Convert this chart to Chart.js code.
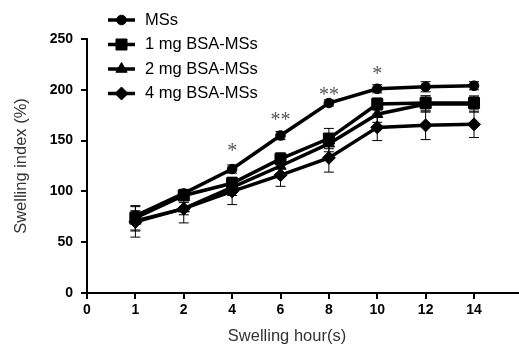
<!DOCTYPE html>
<html>
<head>
<meta charset="utf-8">
<script src="https://cdn.jsdelivr.net/npm/chart.js@4.4.1/dist/chart.umd.min.js"></script>
<style>
  html, body { margin: 0; padding: 0; background: #fff; }
  #wrap { width: 519px; height: 345px; }
</style>
</head>
<body>
<div id="wrap"><canvas id="c" width="519" height="345"></canvas></div>
<script>
// ---- data ----
const xTickLabels = ['0', '1', '2', '4', '6', '8', '10', '12', '14'];
const hours = ['1', '2', '4', '6', '8', '10', '12', '14'];
const seriesNames = ['MSs', '1 mg BSA-MSs', '2 mg BSA-MSs', '4 mg BSA-MSs'];
const msValues   = [76, 98, 122, 155, 187, 201, 203, 204];
const bsa1Values = [74, 96, 108, 132, 152, 186, 187, 187];
const bsa2Values = [71, 83, 104, 125, 147, 176, 186, 186];
const bsa4Values = [70, 83, 100, 116, 133, 163, 165, 166];
const msErr   = [4, 4, 4, 4, 3, 4, 5, 4];
const bsa1Err = [12, 5, 6, 6, 10, 6, 7, 6];
const bsa2Err = [10, 6, 8, 8, 8, 8, 8, 8];
const bsa4Err = [15, 14, 13, 11, 14, 13, 14, 13];
const significance = ['', '', '*', '**', '**', '*', '', ''];
const significanceY = [null, null, 143, 173, 198, 218.5, null, null];
const xTitle = 'Swelling hour(s)';
const yTitle = 'Swelling index (%)';

const FONT = "Arial, 'Liberation Sans', sans-serif";
const pointStyles = ['circle', 'rect', 'triangle', 'rectRot'];
const pointRadii = [4.8, 7.8, 6.5, 6.5];
const valuesList = [msValues, bsa1Values, bsa2Values, bsa4Values];
const errList = [msErr, bsa1Err, bsa2Err, bsa4Err];

const toPoints = (vals) => vals.map((v, i) => ({ x: xTickLabels.indexOf(hours[i]), y: v }));

const datasets = seriesNames.map((name, k) => ({
  label: name,
  data: toPoints(valuesList[k]),
  errors: errList[k],
  borderColor: '#000',
  backgroundColor: '#000',
  borderWidth: 3.5,
  pointStyle: pointStyles[k],
  pointRadius: pointRadii[k],
  pointBorderWidth: 1,
  pointBackgroundColor: '#000',
  pointBorderColor: '#000',
  tension: 0,
  fill: false
}));

const errorBarPlugin = {
  id: 'errorBars',
  beforeDatasetsDraw(chart) {
    const { ctx, scales: { x, y } } = chart;
    ctx.save();
    ctx.strokeStyle = '#000';
    ctx.lineWidth = 1;
    chart.data.datasets.forEach((ds) => {
      ds.data.forEach((p, i) => {
        const e = ds.errors[i];
        const px = x.getPixelForValue(p.x);
        const yt = y.getPixelForValue(p.y + e);
        const yb = y.getPixelForValue(p.y - e);
        ctx.beginPath();
        ctx.moveTo(px, yt); ctx.lineTo(px, yb);
        ctx.moveTo(px - 5, yt); ctx.lineTo(px + 5, yt);
        ctx.moveTo(px - 5, yb); ctx.lineTo(px + 5, yb);
        ctx.stroke();
      });
    });
    ctx.restore();
  }
};

const sigPlugin = {
  id: 'sig',
  afterDatasetsDraw(chart) {
    const { ctx, scales: { x, y } } = chart;
    ctx.save();
    ctx.fillStyle = '#555';
    ctx.font = "20px 'Liberation Serif', 'Times New Roman', serif";
    ctx.textAlign = 'center';
    ctx.textBaseline = 'middle';
    significance.forEach((s, i) => {
      if (!s) return;
      const px = x.getPixelForValue(xTickLabels.indexOf(hours[i]));
      const py = y.getPixelForValue(significanceY[i]);
      ctx.fillText(s, px, py + 4);
    });
    ctx.restore();
  }
};

const xTitlePlugin = {
  id: 'xTitle',
  afterDraw(chart) {
    const { ctx, chartArea } = chart;
    ctx.save();
    ctx.fillStyle = '#333';
    ctx.font = '16.5px ' + FONT;
    ctx.textAlign = 'center';
    ctx.textBaseline = 'middle';
    ctx.fillText(xTitle, (chartArea.left + chartArea.right) / 2 - 16, 336);
    ctx.restore();
  }
};

const legendPlugin = {
  id: 'customLegend',
  afterDraw(chart) {
    const { ctx } = chart;
    ctx.save();
    const y0 = 20, dy = 24.5;
    chart.data.datasets.forEach((ds, k) => {
      const yy = y0 + k * dy;
      ctx.strokeStyle = '#000';
      ctx.lineWidth = 3.5;
      ctx.beginPath();
      ctx.moveTo(108, yy); ctx.lineTo(135, yy);
      ctx.stroke();
      ctx.fillStyle = '#000';
      ctx.lineWidth = 1;
      Chart.helpers.drawPoint(ctx, { pointStyle: ds.pointStyle, radius: ds.pointRadius, borderWidth: 1, rotation: 0 }, 121.5, yy);
      ctx.fillStyle = '#000';
      ctx.font = '16.5px ' + FONT;
      ctx.textAlign = 'left';
      ctx.textBaseline = 'middle';
      ctx.fillText(ds.label, 145, yy);
    });
    ctx.restore();
  }
};

new Chart(document.getElementById('c'), {
  type: 'line',
  data: { datasets },
  plugins: [errorBarPlugin, sigPlugin, xTitlePlugin, legendPlugin],
  options: {
    responsive: false,
    animation: false,
    layout: { autoPadding: false, padding: { top: 39, right: 0, bottom: 0, left: 0 } },
    plugins: { legend: { display: false }, tooltip: { enabled: false } },
    scales: {
      x: {
        type: 'linear',
        min: 0,
        max: 8.93,
        afterFit(scale) { scale.height = 52; scale.paddingRight = 0; scale.paddingLeft = 0; },
        afterBuildTicks(scale) { scale.ticks = xTickLabels.map((_, i) => ({ value: i })); },
        ticks: {
          color: '#000',
          font: { family: FONT, size: 14, weight: 'bold' },
          padding: 3,
          autoSkip: false,
          maxRotation: 0,
          callback: (v) => xTickLabels[v]
        },
        grid: { display: true, drawOnChartArea: false, drawTicks: true, tickLength: 6, color: '#000', lineWidth: 2 },
        border: { display: true, color: '#000', width: 2 },
        title: { display: false }
      },
      y: {
        min: 0,
        max: 250,
        afterFit(scale) { scale.width = 87; },
        ticks: {
          stepSize: 50,
          color: '#000',
          font: { family: FONT, size: 14, weight: 'bold' },
          padding: 8
        },
        grid: { display: true, drawOnChartArea: false, drawTicks: true, tickLength: 6, color: '#000', lineWidth: 2 },
        border: { display: true, color: '#000', width: 2 },
        title: { display: true, text: yTitle, color: '#333', font: { family: FONT, size: 16.5 }, padding: { top: 12, bottom: 0 } }
      }
    }
  }
});
</script>
</body>
</html>
